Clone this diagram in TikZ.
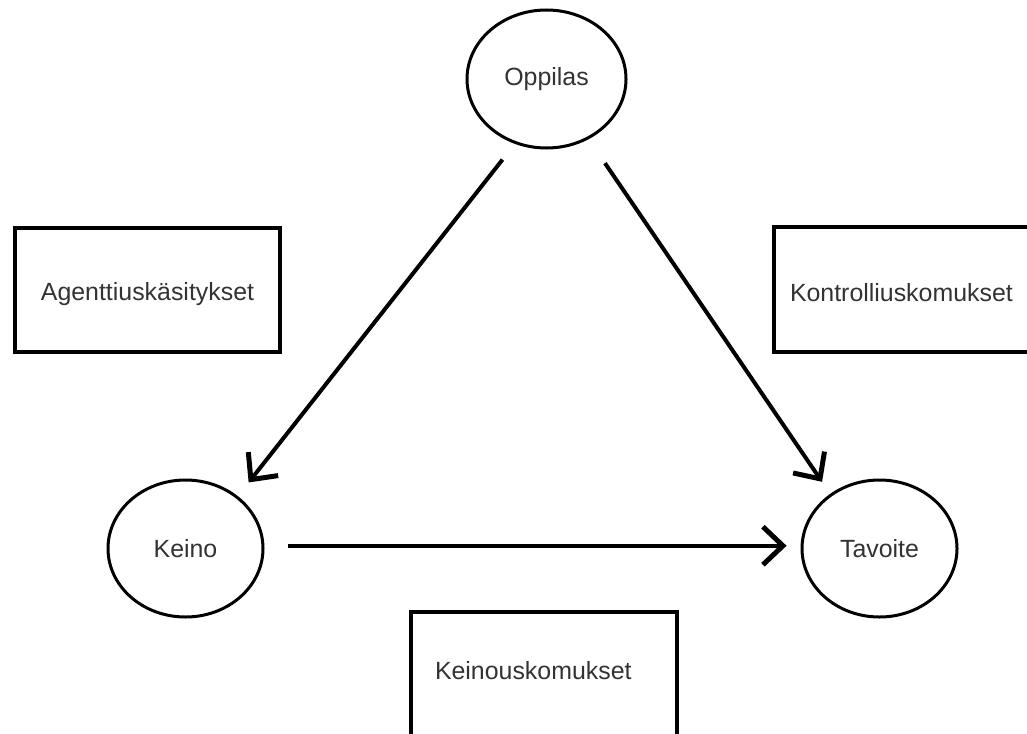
\documentclass[tikz,border=0pt]{standalone}
\usepackage{fontspec}
\setmainfont{Liberation Sans}
\usetikzlibrary{arrows.meta,shapes.geometric}
\begin{document}
\begin{tikzpicture}[x=1pt,y=-1pt,
  every node/.style={font=\fontsize{24.9}{30}\selectfont, text=black!80, inner sep=0pt},
  oval/.style={ellipse, draw=black, line width=3pt},
  box/.style={rectangle, draw=black, line width=4pt},
  arr/.style={line width=4pt, -{Straight Barb[length=20pt,width=38pt,line width=5pt]}}
]
\useasboundingbox (0,0) rectangle (1027,733);
\fill[white] (0,0) rectangle (1027,733);
\clip (0,0) rectangle (1027,733);

\node[oval, minimum width=159pt, minimum height=138pt] (opp) at (546.5,79) {Oppilas};
\node[oval, minimum width=155pt, minimum height=137pt] (keino) at (185.5,548.5) {Keino};
\node[oval, minimum width=155pt, minimum height=137pt] (tav) at (879.5,548.5) {Tavoite};

\node[box, anchor=north west, minimum width=265pt, minimum height=124pt,
      text height=30pt, text depth=10pt] (agent) at (13,226) {Agenttiuskäsitykset};
\node[box, anchor=north west, minimum height=125pt, text width=300pt, align=left,
      inner xsep=16pt, text height=32pt, text depth=9pt] (kontr) at (772,225) {Kontrolliuskomukset};
\node[box, anchor=north west, minimum height=140pt, text width=218pt, align=left,
      inner xsep=24pt, text height=20pt, text depth=26pt] (keinou) at (409,610) {Keinouskomukset};

\draw[arr, shorten <=20pt, shorten >=17.4pt] (opp.244) -- (keino.45.6);
\draw[arr, shorten <=29pt, shorten >=14.5pt] (opp.305) -- (tav.132);
\draw[arr, shorten <=24pt, shorten >=14pt] (keino.2) -- (tav.178);
\end{tikzpicture}
\end{document}
